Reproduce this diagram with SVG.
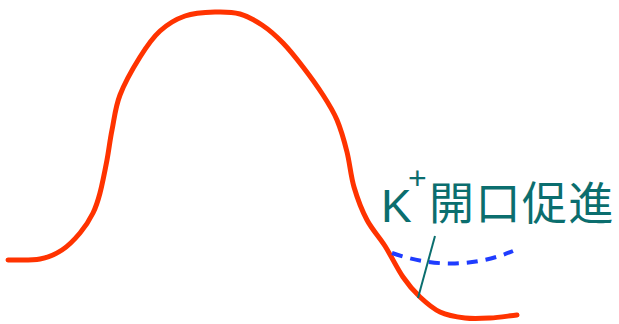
<svg xmlns="http://www.w3.org/2000/svg" width="619" height="324" viewBox="0 0 619 324">
<style>
.curve{fill:none;stroke:#ff3300;stroke-width:5;stroke-linecap:round;stroke-linejoin:round}
.dash{fill:none;stroke:#1f3cff;stroke-width:4;stroke-dasharray:11 8}
.leader{fill:none;stroke:#0b6e6e;stroke-width:2}
.lbl{fill:#0b6e6e;font-family:"Liberation Sans","Noto Sans CJK JP",sans-serif}
</style>
<rect width="619" height="324" fill="#ffffff"/>
<g id="action-potential">
<path class="curve" d="M8,260 C18.7,259.7 31,260.7 40,259 C49,257.3 55.3,254.3 62,250 C68.7,245.7 74.8,239.2 80,233 C85.2,226.8 89.7,219.7 93,213 C96.3,206.3 97.7,201.8 100,193 C102.3,184.2 105,170.5 107,160 C109,149.5 109.8,140.8 112,130 C114.2,119.2 115.3,107.2 120,95 C124.7,82.8 133.3,67.7 140,57 C146.7,46.3 152.5,37.8 160,31 C167.5,24.2 175.8,19.2 185,16 C194.2,12.8 205.8,12.3 215,12 C224.2,11.7 232.2,11.8 240,14 C247.8,16.2 254.8,20.2 262,25 C269.2,29.8 276.2,36 283,43 C289.8,50 296.3,58.3 303,67 C309.7,75.7 317.3,86.2 323,95 C328.7,103.8 333,110.5 337,120 C341,129.5 344.2,140.8 347,152 C349.8,163.2 350.7,175.7 354,187 C357.3,198.3 361.8,210.2 367,220 C372.2,229.8 379,236.5 385,246 C391,255.5 397.2,268.5 403,277 C408.8,285.5 413.8,291.2 420,297 C426.2,302.8 432.5,308.5 440,312 C447.5,315.5 456.7,317 465,318 C473.3,319 481.3,318.5 490,318 C498.7,317.5 508,316 517,315"/>
</g>
<g id="k-open-curve">
<path class="dash" d="M392,253 Q455,275 513,251"/>
</g>
<g id="connectors">
<line class="leader" x1="435" y1="236" x2="418" y2="298"/>
</g>
<g id="label">
<text class="lbl" x="381" y="222" font-size="46">K</text>
<text class="lbl" x="408" y="189" font-size="32">+</text>
<text class="lbl" x="429" y="220" font-size="45" letter-spacing="1.5">開口促進</text>
</g>
</svg>
